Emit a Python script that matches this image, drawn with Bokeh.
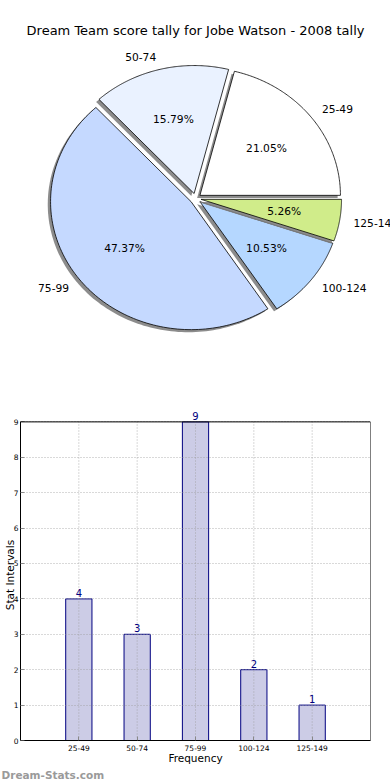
import numpy as np
from bokeh.plotting import figure
from bokeh.models import (Range1d, ColumnDataSource, Label, FactorRange, FixedTicker,
                          BoxAnnotation, Title)
from bokeh.embed import file_html
from bokeh.resources import INLINE
from bokeh.core.properties import value

# ---------------- data ----------------
title_text = "Dream Team score tally for Jobe Watson - 2008 tally"
categories = ["25-49", "50-74", "75-99", "100-124", "125-149"]
counts = [4, 3, 9, 2, 1]
slice_colors = ["#FFFFFF", "#EAF2FF", "#C5D9FF", "#B5D7FF", "#D0EC8A"]
y_ticks = [0, 1, 2, 3, 4, 5, 6, 7, 8, 9]
x_label = "Frequency"
y_label = "Stat Intervals"
watermark = "Dream-Stats.com"

# ---------------- layout / style ----------------
FONT = "DejaVu Sans"
W = 390
H1 = 392
H2 = 388
RX, RY = 140.5, 128.0      # pie radius in px (x, y)
CX, CY = 195.0, 198.0      # pie centre in canvas px (from left, from top)
EXPLODE = 0.04
SHADOW = 0.02
LABEL_DIST = 1.1
PCT_DIST = 0.6
YPAD = 0.35                # headroom above the top tick for the value label
XPAD = 0.2                 # category range padding
GRID_COLOR = "#9a9a9a"

# ---------------- pie ----------------
p1 = figure(width=W, height=H1, output_backend="svg", toolbar_location=None,
            x_range=Range1d(-CX / RX, (W - CX) / RX),
            y_range=Range1d(-(H1 - CY) / RY, CY / RY),
            x_axis_location=None, y_axis_location=None, min_border=0)
p1.grid.visible = False
p1.outline_line_color = None
p1.background_fill_color = "white"
p1.border_fill_color = "white"

total = float(sum(counts))
fracs = np.array(counts, dtype=float) / total
bounds = np.concatenate([[0.0], np.cumsum(fracs)]) * 2 * np.pi

xs, ys, fills, lalpha, falpha = [], [], [], [], []
lab_x, lab_y, lab_t, lab_align = [], [], [], []
pct_x, pct_y, pct_t = [], [], []
for i, cat in enumerate(categories):
    t1, t2 = bounds[i], bounds[i + 1]
    tm = 0.5 * (t1 + t2)
    cx = EXPLODE * np.cos(tm)
    cy = EXPLODE * np.sin(tm)
    ts = np.linspace(t1, t2, 120)
    px = np.concatenate([[cx], cx + np.cos(ts), [cx]])
    py = np.concatenate([[cy], cy + np.sin(ts), [cy]])
    xs.append(list(px - SHADOW)); ys.append(list(py - SHADOW))
    fills.append("#808080"); lalpha.append(0.0); falpha.append(0.9)
    xs.append(list(px)); ys.append(list(py))
    fills.append(slice_colors[i]); lalpha.append(1.0); falpha.append(1.0)
    lx = cx + LABEL_DIST * np.cos(tm)
    ly = cy + LABEL_DIST * np.sin(tm)
    lab_x.append(lx); lab_y.append(ly); lab_t.append(cat)
    lab_align.append("left" if lx > 0 else "right")
    pct_x.append(cx + PCT_DIST * np.cos(tm))
    pct_y.append(cy + PCT_DIST * np.sin(tm))
    pct_t.append("%.2f%%" % (100.0 * fracs[i]))

wsrc = ColumnDataSource(dict(xs=xs, ys=ys, fill=fills, la=lalpha, fa=falpha))
p1.patches("xs", "ys", source=wsrc, fill_color="fill", fill_alpha="fa",
           line_color="black", line_alpha="la", line_width=0.8)

lsrc = ColumnDataSource(dict(x=lab_x, y=lab_y, t=lab_t, a=lab_align))
p1.text("x", "y", text="t", source=lsrc, text_align="a", text_baseline="middle",
        text_font=value(FONT), text_font_size="10.7px", text_color="black")
psrc = ColumnDataSource(dict(x=pct_x, y=pct_y, t=pct_t))
p1.text("x", "y", text="t", source=psrc, text_align="center", text_baseline="middle",
        text_font=value(FONT), text_font_size="10.7px", text_color="black")

tsrc = ColumnDataSource(dict(x=[(195 - CX) / RX], y=[(CY - 30) / RY], t=[title_text]))
p1.text("x", "y", text="t", source=tsrc, text_align="center", text_baseline="middle",
        text_font=value(FONT), text_font_size="13px", text_color="black")

# ---------------- bars ----------------
ymax = max(y_ticks)
ncat = len(categories)
x_lo = -0.5 * XPAD * ncat
x_hi = ncat + 0.5 * XPAD * ncat
p2 = figure(width=W, height=H2, output_backend="svg", toolbar_location=None,
            x_range=FactorRange(*categories, range_padding=XPAD),
            y_range=Range1d(0, ymax + YPAD), min_border_top=17, min_border_right=20,
            min_border_left=0, min_border_bottom=4)
p2.outline_line_color = None

bsrc = ColumnDataSource(dict(cat=categories, n=counts))
p2.vbar(x="cat", top="n", width=0.45, source=bsrc, fill_color="#CCCCE6",
        line_color="#000080", line_width=1)

# dotted grid drawn over the bars; vertical lines stop at the top tick
p2.xgrid.visible = False
p2.segment(x0="cat", y0=0, x1="cat", y1=ymax,
           source=ColumnDataSource(dict(cat=categories)),
           line_color=GRID_COLOR, line_alpha=0.75, line_dash="1 2", line_width=1)
p2.ygrid.grid_line_color = GRID_COLOR
p2.ygrid.grid_line_alpha = 0.75
p2.ygrid.grid_line_dash = "1 2"
p2.ygrid.grid_line_width = 1
p2.ygrid.level = "guide"

for i, n in enumerate(counts):
    p2.add_layout(Label(x=i + 0.5, y=n, text=str(n), text_align="center",
                        text_baseline="bottom", y_offset=2, text_color="#000080",
                        text_font=FONT, text_font_size="10px"))

# axes frame (0 .. top tick)
p2.add_layout(BoxAnnotation(left=x_lo, right=x_hi, bottom=0, top=ymax,
                            fill_alpha=0, line_color="black", line_width=1,
                            line_alpha=1))

p2.yaxis.ticker = FixedTicker(ticks=y_ticks)
p2.yaxis.bounds = (0, ymax)
for ax in (p2.xaxis[0], p2.yaxis[0]):
    ax.axis_line_color = "black"
    ax.major_tick_in = 4
    ax.major_tick_out = 0
    ax.minor_tick_in = 0
    ax.minor_tick_out = 0
    ax.major_tick_line_color = "#888888"
    ax.major_label_text_font = FONT
    ax.major_label_text_font_size = "7.5px"
    ax.major_label_text_color = "black"
    ax.axis_label_text_font = FONT
    ax.axis_label_text_font_size = "10.5px"
    ax.axis_label_text_font_style = "normal"
    ax.axis_label_text_color = "black"
p2.xaxis[0].axis_label = x_label
p2.yaxis[0].axis_label = y_label
p2.xaxis[0].major_label_standoff = 4
p2.xaxis[0].axis_label_standoff = -2
p2.yaxis[0].major_label_standoff = 2
p2.yaxis[0].axis_label_standoff = -5

p2.add_layout(Title(text=watermark, align="left", offset=-19, standoff=0,
                    text_font=FONT, text_font_size="10.5px", text_font_style="bold",
                    text_color="#9a9a9a"), "below")

open("out.html", "w").write(file_html([p1, p2], INLINE))
